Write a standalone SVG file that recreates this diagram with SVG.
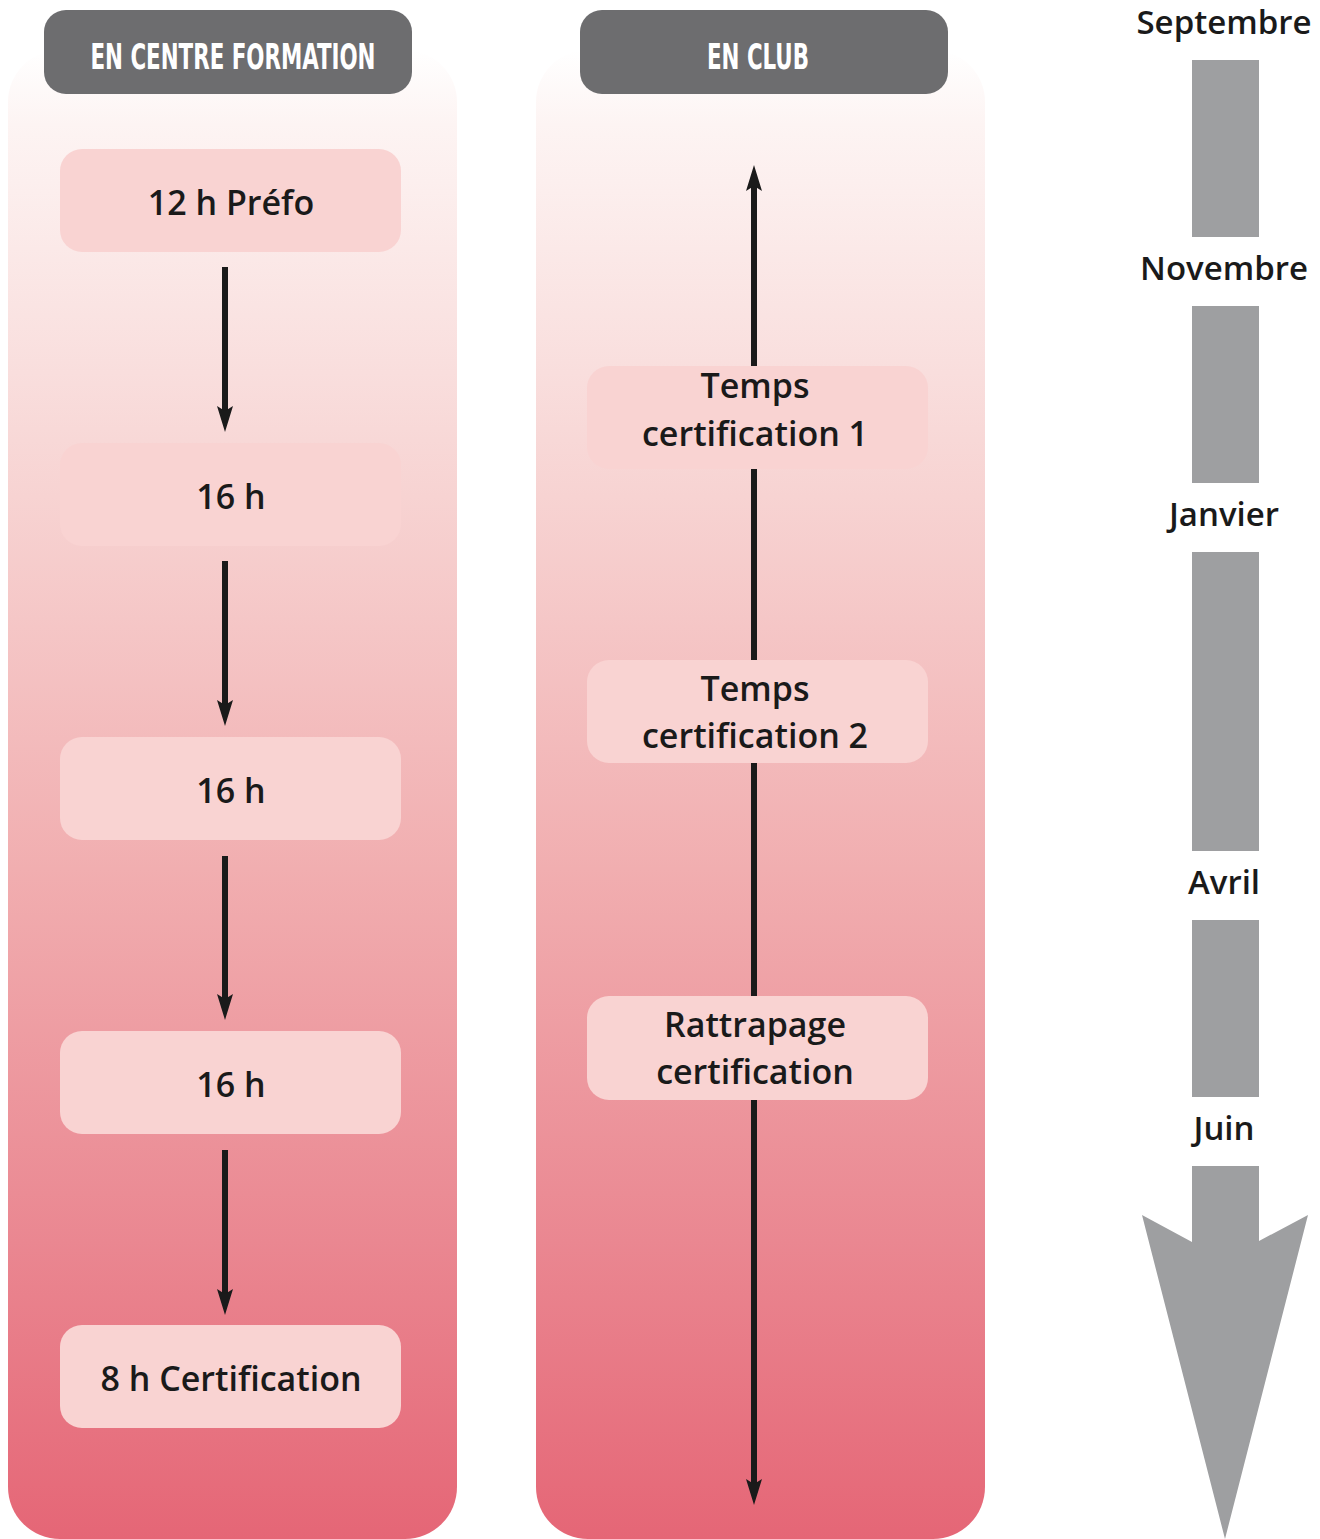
<svg xmlns="http://www.w3.org/2000/svg" width="1320" height="1539" viewBox="0 0 1320 1539">
  <defs>
    <linearGradient id="colFill" x1="0" y1="0" x2="0" y2="1">
      <stop offset="0" stop-color="#ffffff"/>
      <stop offset="0.05" stop-color="#fdf4f3"/>
      <stop offset="0.3" stop-color="#f7d3d2"/>
      <stop offset="0.55" stop-color="#f1aeb0"/>
      <stop offset="0.8" stop-color="#ea8791"/>
      <stop offset="1" stop-color="#e56676"/>
    </linearGradient>
    <!-- slim spear head; the line ends at the notch -->
    <marker id="head" viewBox="0 0 26 16" refX="5" refY="8" markerWidth="26" markerHeight="16" orient="auto" markerUnits="userSpaceOnUse">
      <path d="M0,0 L26,8 L0,16 L5,8 Z" fill="#1a1a1a"/>
    </marker>
  </defs>
  <style>
    .col { fill: url(#colFill); }
    .hdr { fill: #6d6d6f; }
    .hdrtxt { fill: #ffffff; font-family: "Liberation Sans Narrow", "DejaVu Sans Condensed", "Liberation Sans", sans-serif; font-weight: bold; font-size: 36px; text-anchor: middle; }
    .box { fill: #f9d3d2; }
    .lbl { fill: #1a1a1a; font-family: "Open Sans", "Noto Sans", sans-serif; font-weight: 600; font-size: 34px; text-anchor: middle; }
    .month { fill: #1a1a1a; font-family: "Open Sans", "Noto Sans", sans-serif; font-weight: 600; font-size: 33px; text-anchor: middle; }
    .bar { fill: #9e9fa1; }
    .conn { stroke: #1a1a1a; stroke-width: 6; fill: none; marker-end: url(#head); }
  </style>

  <!-- column backgrounds -->
  <rect id="col-centre" class="col" x="8" y="50" width="449" height="1489" rx="52"/>
  <rect id="col-club" class="col" x="536" y="50" width="449" height="1489" rx="52"/>

  <!-- headers -->
  <g id="hdr-centre">
    <rect class="hdr" x="44" y="10" width="368" height="84" rx="22"/>
    <text class="hdrtxt" x="233" y="69" textLength="285" lengthAdjust="spacingAndGlyphs">EN CENTRE FORMATION</text>
  </g>
  <g id="hdr-club">
    <rect class="hdr" x="580" y="10" width="368" height="84" rx="22"/>
    <text class="hdrtxt" x="758" y="69" textLength="102" lengthAdjust="spacingAndGlyphs">EN CLUB</text>
  </g>

  <!-- connectors -->
  <g id="connectors">
    <line class="conn" x1="225" y1="267" x2="225" y2="411"/>
    <line class="conn" x1="225" y1="561" x2="225" y2="705"/>
    <line class="conn" x1="225" y1="856" x2="225" y2="999"/>
    <line class="conn" x1="225" y1="1150" x2="225" y2="1294"/>
    <line class="conn" x1="754" y1="835" x2="754" y2="186"/>
    <line class="conn" x1="754" y1="835" x2="754" y2="1484"/>
  </g>

  <!-- training centre steps -->
  <g id="step-prefo">
    <rect class="box" x="60" y="149" width="341" height="103" rx="22"/>
    <text class="lbl" x="231" y="215">12 h Préfo</text>
  </g>
  <g id="step-16a">
    <rect class="box" x="60" y="443" width="341" height="103" rx="22"/>
    <text class="lbl" x="231" y="509">16 h</text>
  </g>
  <g id="step-16b">
    <rect class="box" x="60" y="737" width="341" height="103" rx="22"/>
    <text class="lbl" x="231" y="803">16 h</text>
  </g>
  <g id="step-16c">
    <rect class="box" x="60" y="1031" width="341" height="103" rx="22"/>
    <text class="lbl" x="231" y="1097">16 h</text>
  </g>
  <g id="step-cert">
    <rect class="box" x="60" y="1325" width="341" height="103" rx="22"/>
    <text class="lbl" x="231" y="1391">8 h Certification</text>
  </g>

  <!-- club steps -->
  <g id="club-cert1">
    <rect class="box" x="587" y="366" width="341" height="103" rx="22"/>
    <text class="lbl" x="755" y="398">Temps</text>
    <text class="lbl" x="755" y="446">certification 1</text>
  </g>
  <g id="club-cert2">
    <rect class="box" x="587" y="660" width="341" height="103" rx="22"/>
    <text class="lbl" x="755" y="701">Temps</text>
    <text class="lbl" x="755" y="748">certification 2</text>
  </g>
  <g id="club-rattrapage">
    <rect class="box" x="587" y="996" width="341" height="104" rx="22"/>
    <text class="lbl" x="755" y="1037">Rattrapage</text>
    <text class="lbl" x="755" y="1084">certification</text>
  </g>

  <!-- timeline -->
  <g id="timeline">
    <text class="month" x="1224" y="34">Septembre</text>
    <rect class="bar" x="1192" y="60" width="67" height="177"/>
    <text class="month" x="1224" y="280">Novembre</text>
    <rect class="bar" x="1192" y="306" width="67" height="177"/>
    <text class="month" x="1224" y="526">Janvier</text>
    <rect class="bar" x="1192" y="552" width="67" height="299"/>
    <text class="month" x="1224" y="894">Avril</text>
    <rect class="bar" x="1192" y="920" width="67" height="177"/>
    <text class="month" x="1224" y="1140">Juin</text>
    <polygon class="bar" points="1192,1166 1259,1166 1259,1241 1308,1215 1225,1539 1142,1215 1192,1242"/>
  </g>
</svg>
